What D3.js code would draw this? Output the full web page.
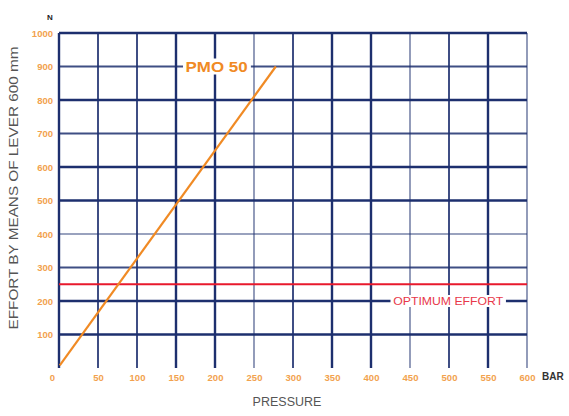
<!DOCTYPE html>
<html>
<head>
<meta charset="utf-8">
<script src="https://cdn.jsdelivr.net/npm/d3@7/dist/d3.min.js"></script>
<style>
  body { margin: 0; background: #fff; }
  svg { display: block; }
</style>
</head>
<body>
<svg id="chart" width="569" height="416"></svg>
<script>
// ---- data ----
const xTicks = [0, 50, 100, 150, 200, 250, 300, 350, 400, 450, 500, 550, 600];
const yTicks = [0, 100, 200, 300, 400, 500, 600, 700, 800, 900, 1000];
const pmoPressure = [1, 278];
const pmoEffort = [8, 900];
const optimumEffort = 250;
const seriesName = "PMO 50";
const optimumLabel = "OPTIMUM EFFORT";
const xUnit = "BAR";
const yUnit = "N";
const xTitle = "PRESSURE";
const yTitle = "EFFORT BY MEANS OF LEVER 600 mm";

// grid line emphasis (style only, scanned-look)
const vWeight = {0: 2, 50: 1, 100: 1, 150: 2, 200: 2, 250: 0, 300: 1, 350: 2, 400: 2, 450: 0, 500: 1, 550: 2, 600: 0};
const hWeight = {100: 2, 200: 2, 300: 1, 400: 0, 500: 2, 600: 2, 700: 1, 800: 2, 900: 1, 1000: 2};

const svg = d3.select("#chart");
const x = d3.scaleLinear().domain([0, 600]).range([59, 527]);
const y = d3.scaleLinear().domain([0, 1000]).range([368, 33]);

const gridColor = "#1d2f6e";
const styleW = [1.6, 2.0, 2.4];
const styleO = [0.6, 0.85, 1];

const grid = svg.append("g");
// horizontal lines (no bottom line)
yTicks.filter(d => d > 0).forEach(d => {
  grid.append("line")
    .attr("x1", x(0)).attr("x2", x(600))
    .attr("y1", y(d)).attr("y2", y(d))
    .attr("stroke", gridColor)
    .attr("stroke-width", styleW[hWeight[d]])
    .attr("stroke-opacity", styleO[hWeight[d]]);
});
// vertical lines
xTicks.forEach(d => {
  grid.append("line")
    .attr("x1", x(d)).attr("x2", x(d))
    .attr("y1", y(1000)).attr("y2", y(0))
    .attr("stroke", gridColor)
    .attr("stroke-width", styleW[vWeight[d]])
    .attr("stroke-opacity", styleO[vWeight[d]]);
});

// axes tick labels
const tickColor = "#f2a24e";
const yAxis = d3.axisLeft(y).tickValues(yTicks.filter(d => d > 0)).tickFormat(d3.format("d")).tickSize(0).tickPadding(6);
const gy = svg.append("g").attr("transform", `translate(${x(0)},0)`).call(yAxis);
gy.select(".domain").remove();
gy.selectAll("text")
  .attr("fill", tickColor).attr("font-family", "Liberation Sans, Arial, sans-serif")
  .attr("font-size", 9.5).attr("font-weight", "bold");

const xAxis = d3.axisBottom(x).tickValues(xTicks).tickFormat(d3.format("d")).tickSize(0).tickPadding(6);
const gx = svg.append("g").attr("transform", `translate(0,${y(0)})`).call(xAxis);
gx.select(".domain").remove();
gx.selectAll("text")
  .attr("fill", tickColor).attr("font-family", "Liberation Sans, Arial, sans-serif")
  .attr("font-size", 9.5).attr("font-weight", "bold");
gx.selectAll(".tick").filter(d => d === 0).select("text").attr("dx", -7);

// optimum effort line
svg.append("line")
  .attr("x1", x(0)).attr("x2", x(600))
  .attr("y1", y(optimumEffort)).attr("y2", y(optimumEffort))
  .attr("stroke", "#e8192c").attr("stroke-width", 2);

// optimum label with white backing
const optG = svg.append("g");
optG.append("rect")
  .attr("x", x(425)).attr("y", y(200) - 6)
  .attr("width", x(573) - x(425)).attr("height", 12)
  .attr("fill", "#fff");
optG.append("text")
  .attr("x", x(499)).attr("y", y(200))
  .attr("dy", "0.35em")
  .attr("text-anchor", "middle")
  .attr("fill", "#e8384a")
  .attr("font-family", "Liberation Sans, Arial, sans-serif")
  .attr("font-size", 10.5)
  .attr("textLength", 110)
  .attr("lengthAdjust", "spacingAndGlyphs")
  .text(optimumLabel);

// PMO 50 line
const pts = pmoPressure.map((p, i) => [p, pmoEffort[i]]);
svg.append("path")
  .datum(pts)
  .attr("d", d3.line().x(d => x(d[0])).y(d => y(d[1])))
  .attr("fill", "none")
  .attr("stroke", "#f08a24")
  .attr("stroke-width", 2.2);

// PMO label
const pmoG = svg.append("g");
pmoG.append("rect")
  .attr("x", x(159)).attr("y", y(900) - 8)
  .attr("width", x(246) - x(159)).attr("height", 16)
  .attr("fill", "#fff");
pmoG.append("text")
  .attr("x", x(202)).attr("y", y(900))
  .attr("dy", "0.36em")
  .attr("text-anchor", "middle")
  .attr("fill", "#f08a24")
  .attr("font-family", "Liberation Sans, Arial, sans-serif")
  .attr("font-size", 15)
  .attr("font-weight", "bold")
  .attr("textLength", 62)
  .attr("lengthAdjust", "spacingAndGlyphs")
  .text(seriesName);

// units
svg.append("text")
  .attr("x", 50).attr("y", 20)
  .attr("text-anchor", "middle")
  .attr("font-family", "Liberation Sans, Arial, sans-serif")
  .attr("font-size", 8).attr("font-weight", "bold")
  .attr("fill", "#222")
  .text(yUnit);
svg.append("text")
  .attr("x", 542).attr("y", y(0)).attr("dy", "1.15em")
  .attr("font-family", "Liberation Sans, Arial, sans-serif")
  .attr("font-size", 10).attr("font-weight", "bold")
  .attr("fill", "#333")
  .text(xUnit);

// axis titles
svg.append("text")
  .attr("x", 287).attr("y", 406)
  .attr("text-anchor", "middle")
  .attr("font-family", "Liberation Sans, Arial, sans-serif")
  .attr("font-size", 12.5)
  .attr("fill", "#555")
  .text(xTitle);
svg.append("text")
  .attr("transform", "translate(18,188) rotate(-90)")
  .attr("text-anchor", "middle")
  .attr("font-family", "Liberation Sans, Arial, sans-serif")
  .attr("font-size", 12)
  .attr("fill", "#555")
  .attr("textLength", 283)
  .attr("lengthAdjust", "spacingAndGlyphs")
  .text(yTitle);
</script>
</body>
</html>
